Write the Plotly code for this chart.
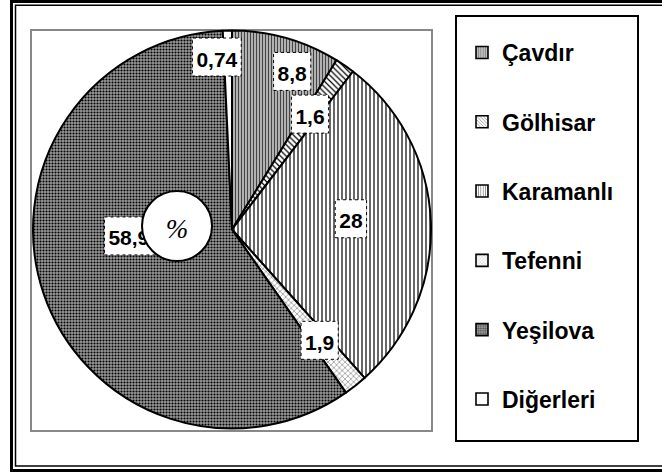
import math
import plotly.graph_objects as go

# ---- data ----
categories = ["Çavdır", "Gölhisar", "Karamanlı", "Tefenni", "Yeşilova", "Diğerleri"]
shares = [8.8, 1.6, 28, 1.9, 58.96, 0.74]
center_text = "%"

# ---- styles ----
pat_shape = ["|", "\\", "|", "x", ".", ""]
pat_fg = ["#444444", "black", "black", "#666666", "black", "black"]
pat_bg = ["#c8c8c8", "white", "white", "white", "#9a9a9a", "white"]
pat_size = [3, 4, 4, 4, 3, 4]
pat_sol = [0.45, 0.3, 0.3, 0.25, 0.4, 0.3]

label_rfrac = [0.85, 0.70, 0.60, 0.71, 0.49, 0.87]
label_dang = [5.0, -0.5, -3.0, 0.0, 15.0, -3.7]

W, H = 662, 472
FONT = "Liberation Sans"


def px(x):
    return x / W


def py(y):
    return 1 - y / H


pie_cx, pie_cy, pie_r = 232, 229.5, 199
dom_x = [px(pie_cx - pie_r), px(pie_cx + pie_r)]
dom_y = [py(pie_cy + pie_r), py(pie_cy - pie_r)]

fig = go.Figure()
fig.add_trace(go.Pie(
    labels=categories, values=shares, sort=False, direction="clockwise",
    rotation=0, textinfo="none", hoverinfo="label+value", showlegend=False,
    domain=dict(x=dom_x, y=dom_y),
    marker=dict(
        colors=pat_bg,
        line=dict(color="black", width=2),
        pattern=dict(shape=pat_shape, fgcolor=pat_fg, bgcolor=pat_bg,
                     size=pat_size, solidity=pat_sol, fillmode="replace"),
    ),
))

# legend entries: bars placed outside the hidden axis range, so only the
# patterned legend symbols are visible
for i, name in enumerate(categories):
    fig.add_trace(go.Bar(
        x=[0], y=[1], name=name, legendgroup=name, showlegend=True,
        hoverinfo="skip",
        marker=dict(color=pat_bg[i], line=dict(color="black", width=1.6),
                    pattern=dict(shape=pat_shape[i], fgcolor=pat_fg[i],
                                 bgcolor=pat_bg[i], size=3,
                                 solidity=pat_sol[i])),
    ))

shapes = []
# outer double frame
shapes.append(dict(type="rect", xref="paper", yref="paper",
                   x0=px(11.5), x1=px(668), y0=py(470.5), y1=py(1.5),
                   line=dict(color="black", width=3)))
shapes.append(dict(type="rect", xref="paper", yref="paper",
                   x0=px(15.5), x1=px(668), y0=py(466), y1=py(5.2),
                   line=dict(color="black", width=1.5)))
# plot area frame
shapes.append(dict(type="rect", xref="paper", yref="paper",
                   x0=px(31), x1=px(432), y0=py(431), y1=py(30),
                   line=dict(color="#888888", width=2), layer="below"))
# legend frame
shapes.append(dict(type="rect", xref="paper", yref="paper",
                   x0=px(456), x1=px(638), y0=py(441), y1=py(16),
                   line=dict(color="black", width=2)))

# data labels computed from slice mid angles
total = sum(shares)
cum = 0.0
lab_font = 21
for i, v in enumerate(shares):
    mid = (cum + v / 2) / total * 360.0
    cum += v
    ang = math.radians(mid + label_dang[i])
    rr = pie_r * label_rfrac[i]
    lx = pie_cx + rr * math.sin(ang)
    ly = pie_cy - rr * math.cos(ang)
    txt = f"{v:g}".replace(".", ",")
    tw = sum(0.278 if c == "," else 0.556 for c in txt) * lab_font
    bw, bh = tw + 8, 38
    shapes.append(dict(
        type="rect", xref="paper", yref="paper",
        x0=px(lx - bw / 2), x1=px(lx + bw / 2),
        y0=py(ly + bh / 2), y1=py(ly - bh / 2),
        fillcolor="white", line=dict(color="black", width=1, dash="dot"),
        label=dict(text=f"<b>{txt}</b>", textposition="middle center",
                   font=dict(family=FONT, size=lab_font, color="black")),
    ))

# center "%" circle
shapes.append(dict(type="circle", xref="paper", yref="paper",
                   x0=px(142), x1=px(212), y0=py(261), y1=py(191),
                   fillcolor="white", line=dict(color="black", width=2),
                   label=dict(text=f"<i>{center_text}</i>", textposition="middle center",
                              font=dict(family="Liberation Serif", size=27, color="black"))))

fig.update_layout(
    width=W, height=H,
    margin=dict(l=0, r=0, t=0, b=0),
    paper_bgcolor="white", plot_bgcolor="rgba(0,0,0,0)",
    xaxis=dict(visible=False, domain=[0.99, 1.0], range=[5, 6]),
    yaxis=dict(visible=False, domain=[0.99, 1.0], range=[5, 6]),
    shapes=shapes,
    showlegend=True,
    hovermode=False,
    legend=dict(
        x=px(462), xanchor="left", y=py(31), yanchor="top",
        traceorder="grouped", tracegroupgap=36.4,
        font=dict(family=FONT, size=23, color="black", weight="bold"),
        bgcolor="rgba(0,0,0,0)", borderwidth=0,
        itemclick=False, itemdoubleclick=False,
    ),
    font=dict(family=FONT),
)

fig.write_html("out.html",
               config={"displayModeBar": False, "staticPlot": True},
               post_script="document.body.style.margin='0';document.body.style.padding='0';")
